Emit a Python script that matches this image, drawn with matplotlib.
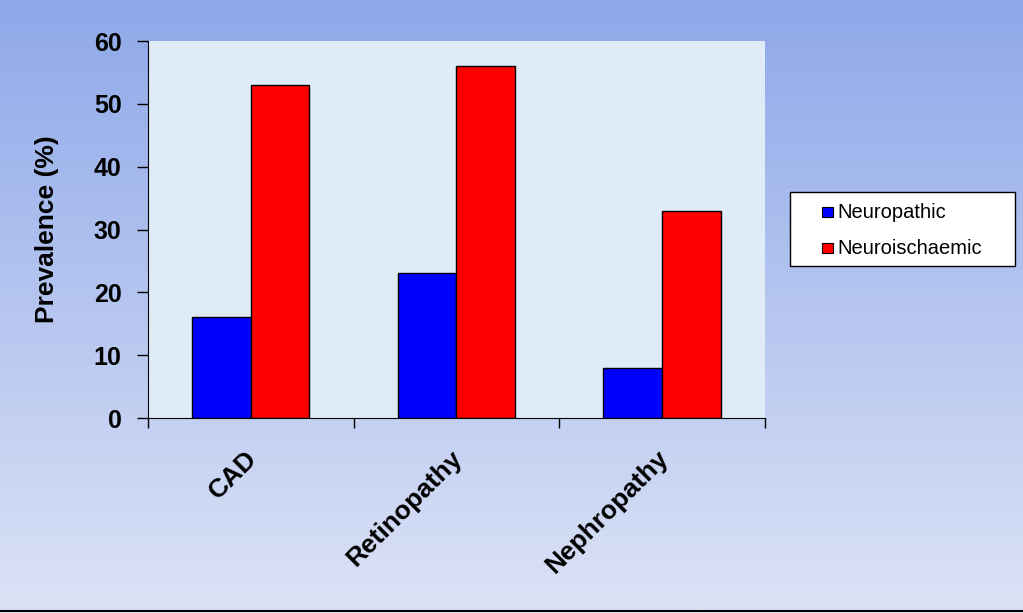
import matplotlib.pyplot as plt
import numpy as np
from matplotlib.lines import Line2D
from matplotlib.patches import Rectangle
from matplotlib.transforms import ScaledTranslation

plt.rcParams['font.family'] = ['Liberation Sans', 'DejaVu Sans']

categories = ["CAD", "Retinopathy", "Nephropathy"]
neuropathic = [16, 23, 8]
neuroischaemic = [53, 56, 33]
series_names = ["Neuropathic", "Neuroischaemic"]
series_colors = ["#0000ff", "#ff0000"]

W, H = 1023, 613
fig = plt.figure(figsize=(W / 100, H / 100), dpi=100)

# gradient background
bg = fig.add_axes([0, 0, 1, 1], zorder=-10)
grad = np.linspace(0, 1, 256).reshape(-1, 1)
top = np.array([0x8e, 0xa8, 0xe9]) / 255
bot = np.array([0xdc, 0xe3, 0xf6]) / 255
img = top + (bot - top) * grad[:, :, None]
bg.imshow(img, aspect='auto', extent=[0, 1, 0, 1])
bg.axis('off')
fig.add_artist(Line2D([0, 1], [0.004, 0.004], color='black', lw=1.5, transform=fig.transFigure))

ax = fig.add_axes([0.1447, 0.3181, 0.603, 0.615])
ax.set_facecolor('#dfebf7')

x = np.arange(len(categories))
w = 0.285
ax.bar(x - w / 2, neuropathic, w, color=series_colors[0], edgecolor='black', lw=1)
ax.bar(x + w / 2, neuroischaemic, w, color=series_colors[1], edgecolor='black', lw=1)

ax.set_xlim(-0.5, 2.5)
ax.set_ylim(0, 60)
ax.set_yticks(range(0, 61, 10))
ax.tick_params(axis='y', length=8, width=1, labelsize=18, pad=11)
for t in ax.get_yticklabels():
    t.set_fontweight('bold')

ax.set_xticks(x)
ax.set_xticklabels(categories, rotation=45, ha='right', rotation_mode='anchor',
                   fontsize=19, fontweight='bold')
ax.tick_params(axis='x', which='major', length=0, pad=20)
shift = ScaledTranslation(-0.06, 0, fig.dpi_scale_trans)
for t in ax.get_xticklabels():
    t.set_transform(t.get_transform() + shift)
ax.set_xticks([-0.5, 0.5, 1.5, 2.5], minor=True)
ax.tick_params(axis='x', which='minor', length=7, width=1)

for s in ['top', 'right']:
    ax.spines[s].set_visible(False)

ax.set_ylabel("Prevalence (%)", fontsize=19, fontweight='bold', labelpad=25)

# legend box (drawn in figure pixels)
def fx(px):
    return px / W

def fy(py):
    return 1 - py / H

fig.add_artist(Rectangle((fx(790), fy(266)), fx(1015) - fx(790), fy(192) - fy(266),
                         transform=fig.transFigure, facecolor='white', edgecolor='black', lw=1))
for i, (name, col) in enumerate(zip(series_names, series_colors)):
    yc = 212 + i * 36
    fig.add_artist(Rectangle((fx(822), fy(yc + 5)), fx(11), 10 / H,
                             transform=fig.transFigure, facecolor=col, edgecolor='black', lw=0.8))
    fig.text(fx(837), fy(yc), name, fontsize=14.5, va='center', ha='left')

fig.savefig("out.png", dpi=100)
